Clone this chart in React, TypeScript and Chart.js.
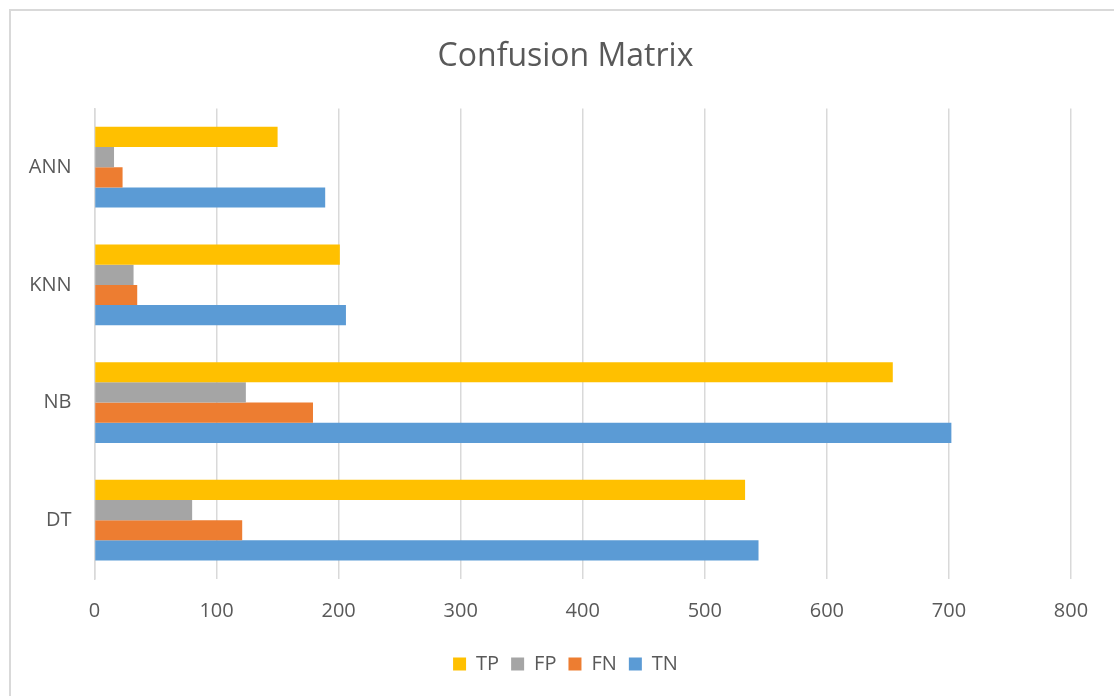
import React, { useEffect, useRef } from "react";
import { Chart, registerables } from "chart.js";

Chart.register(...registerables);

// Classifiers, listed top to bottom as they appear on the category axis
const categories = ["ANN", "KNN", "NB", "DT"];

// Confusion-matrix counts per classifier
const tpValues = [150, 201, 654, 533];
const fpValues = [16, 32, 124, 80];
const fnValues = [23, 35, 179, 121];
const tnValues = [189, 206, 702, 544];

const seriesLabels = ["TP", "FP", "FN", "TN"];
const seriesColors = ["#FFC000", "#A5A5A5", "#ED7D31", "#5B9BD5"];

const xMin = 0;
const xMax = 800;
const xStep = 100;

const FONT = "'Open Sans', 'Noto Sans', sans-serif";
const TEXT = "#595959";
const GRID = "#d9d9d9";

export default function App() {
  const canvasRef = useRef<HTMLCanvasElement | null>(null);

  useEffect(() => {
    const canvas = canvasRef.current;
    if (!canvas) return;
    const values = [tpValues, fpValues, fnValues, tnValues];
    const chart = new Chart(canvas, {
      type: "bar",
      data: {
        labels: categories,
        datasets: seriesLabels.map((label, i) => ({
          label,
          data: values[i],
          backgroundColor: seriesColors[i],
          borderWidth: 0,
          categoryPercentage: 0.686,
          barPercentage: 1,
        })),
      },
      options: {
        indexAxis: "y",
        animation: false,
        responsive: false,
        maintainAspectRatio: false,
        layout: { padding: { top: 0, right: 0, bottom: 12, left: 0 } },
        scales: {
          x: {
            min: xMin,
            max: xMax,
            ticks: {
              stepSize: xStep,
              color: TEXT,
              font: { family: FONT, size: 20 },
              padding: 20,
            },
            grid: { color: GRID, lineWidth: 1.5, drawTicks: false },
            border: { display: false },
            afterFit: (scale: any) => {
              scale.height = 63;
            },
          },
          y: {
            ticks: {
              color: TEXT,
              font: { family: FONT, size: 20 },
              padding: 23,
            },
            grid: { display: false, drawTicks: false },
            border: { display: true, color: GRID, width: 1.5 },
            afterFit: (scale: any) => {
              scale.width = 83.5;
            },
          },
          // empty right-hand margin so the plot ends before the canvas edge
          margin: {
            type: "linear",
            position: "right",
            display: true,
            ticks: { display: false },
            grid: { display: false, drawTicks: false },
            border: { display: false },
            afterFit: (scale: any) => {
              scale.width = 49;
            },
          },
        },
        plugins: {
          title: {
            display: true,
            text: "Confusion Matrix",
            color: TEXT,
            font: { family: FONT, size: 32, weight: "normal" },
            padding: { top: 27, bottom: 32 },
          },
          legend: {
            position: "bottom",
            labels: {
              color: TEXT,
              font: { family: FONT, size: 20 },
              boxWidth: 13,
              boxHeight: 13,
              padding: 12,
            },
          },
          tooltip: { enabled: false },
        },
      },
    });
    return () => chart.destroy();
  }, []);

  return (
    <div
      style={{
        position: "fixed",
        left: 0,
        top: 0,
        width: 1114,
        height: 696,
        overflow: "hidden",
        background: "#ffffff",
      }}
    >
      <div
        style={{
          position: "absolute",
          left: 9,
          top: 9,
          width: 1113,
          height: 702,
          boxSizing: "border-box",
          border: `2px solid ${GRID}`,
          background: "#ffffff",
        }}
      >
        <canvas
          ref={canvasRef}
          width={1109}
          height={685}
          style={{ display: "block", width: 1109, height: 685 }}
        />
      </div>
    </div>
  );
}
